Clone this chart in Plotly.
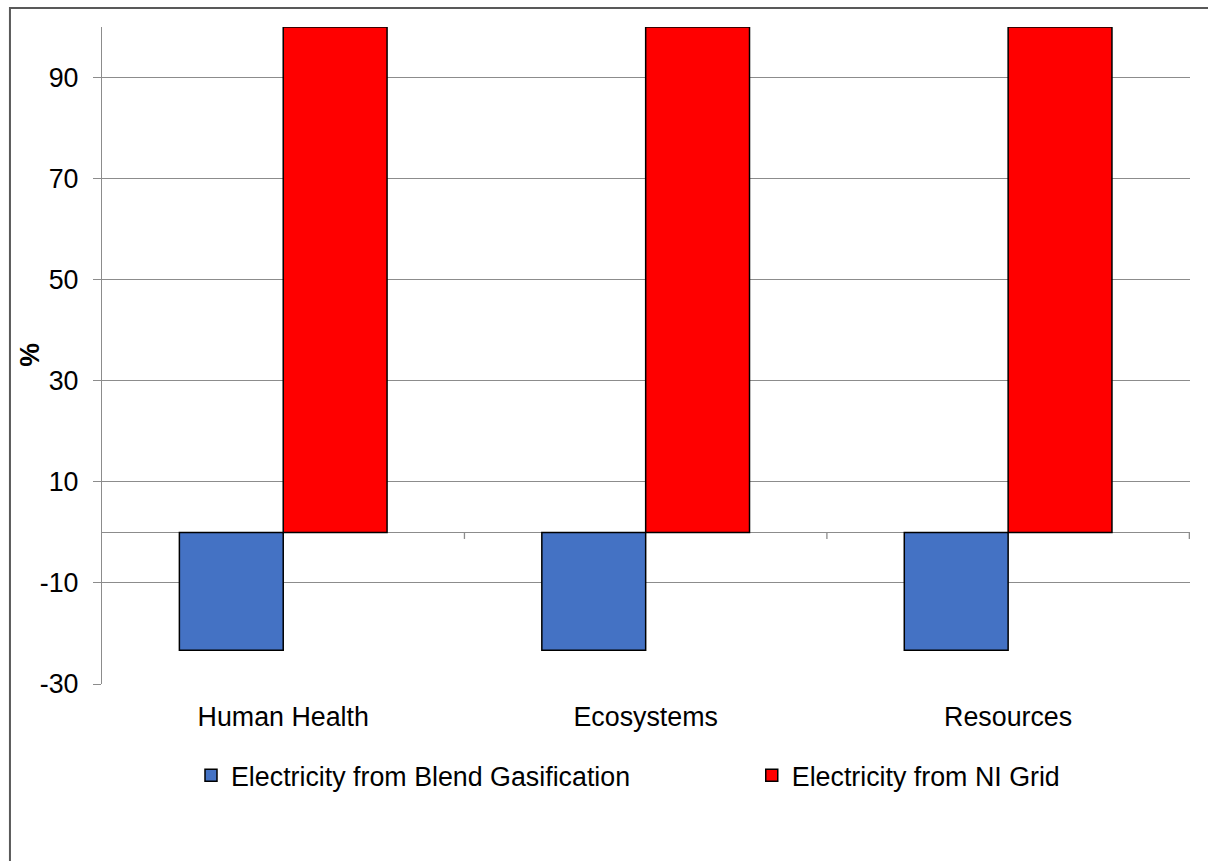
import plotly.graph_objects as go

# Damage categories and relative impact (%) of each electricity source
categories = ["Human Health", "Ecosystems", "Resources"]
blend_gasification = [-23.3, -23.3, -23.3]
ni_grid = [100, 100, 100]
y_ticks = [-30, -10, 10, 30, 50, 70, 90]

series_names = ["Electricity from Blend Gasification", "Electricity from NI Grid"]
series_colors = ["#4472C4", "#FF0000"]

FONT = "Liberation Sans, Arial, sans-serif"
FS = 26.8
GRID = "#8C8C8C"

fig = go.Figure()
for i, (name, vals, col) in enumerate(zip(series_names, [blend_gasification, ni_grid], series_colors)):
    fig.add_trace(go.Bar(
        x=categories, y=vals, name=name,
        legend="legend" if i == 0 else "legend2",
        marker=dict(color=col, line=dict(color="#000000", width=1.5)),
    ))

# Category boundary tick marks hanging below the zero line
shapes = []
for b in [0.5, 1.5, 2.5]:
    shapes.append(dict(type="line", xref="x", yref="y", x0=b, x1=b, y0=0, y1=-1.3,
                       line=dict(color=GRID, width=1.3)))
# Outer chart frame
shapes.append(dict(type="rect", xref="paper", yref="paper",
                   x0=-0.0846, x1=1.2, y0=1.0289, y1=-0.5,
                   line=dict(color="#595959", width=2), fillcolor="rgba(0,0,0,0)", layer="below"))

legend_common = dict(orientation="h", yanchor="middle", y=-0.139, xanchor="left",
                     font=dict(family=FONT, size=FS, color="#000000"),
                     itemwidth=30, bgcolor="rgba(0,0,0,0)")

fig.update_layout(
    width=1208, height=861,
    margin=dict(l=102, r=18, t=27, b=177),
    paper_bgcolor="white", plot_bgcolor="white",
    barmode="group", bargap=0.427, bargroupgap=0,
    font=dict(family=FONT, size=FS, color="#000000"),
    showlegend=True,
    legend=dict(x=0.0818, **legend_common),
    legend2=dict(x=0.5972, **legend_common),
    shapes=shapes,
    annotations=[dict(text="<b>%</b>", xref="paper", yref="paper", x=-0.0662, y=0.501,
                      xanchor="center", yanchor="middle", textangle=-90, showarrow=False,
                      font=dict(family=FONT, size=FS, color="#000000"))],
    xaxis=dict(
        type="category", showgrid=False, showline=False, zeroline=False,
        ticks="outside", ticklen=9, tickcolor="rgba(0,0,0,0)",
        tickfont=dict(family=FONT, size=FS),
    ),
    yaxis=dict(
        range=[-30, 100], tickvals=y_ticks, ticktext=[str(v) for v in y_ticks],
        showgrid=True, gridcolor=GRID, gridwidth=1.3,
        zeroline=True, zerolinecolor=GRID, zerolinewidth=1.3,
        showline=True, linecolor=GRID, linewidth=1.3,
        ticks="outside", ticklen=8, tickcolor=GRID, tickwidth=1.3,
        ticklabelstandoff=9,
        tickfont=dict(family=FONT, size=FS),
    ),
)

fig.write_html("out.html")
